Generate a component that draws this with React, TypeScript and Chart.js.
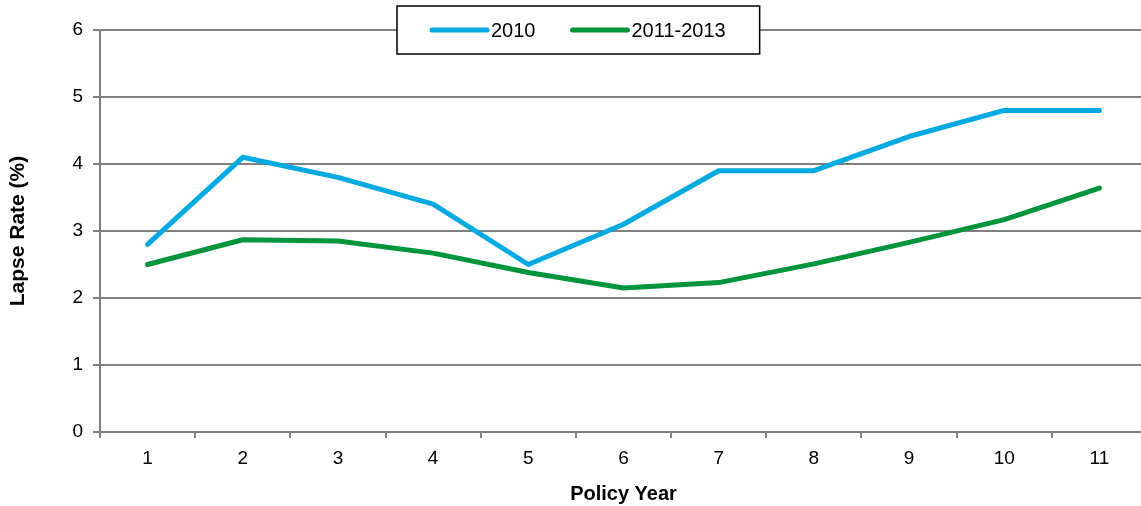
import React, { useEffect, useRef } from "react";
import { Chart, registerables } from "chart.js";

Chart.register(...registerables);

const categories = ["1", "2", "3", "4", "5", "6", "7", "8", "9", "10", "11"];
const series2010 = [2.8, 4.1, 3.8, 3.4, 2.5, 3.1, 3.9, 3.9, 4.41, 4.8, 4.8];
const series2011to2013 = [2.5, 2.87, 2.85, 2.67, 2.38, 2.15, 2.23, 2.51, 2.83, 3.17, 3.64];
const seriesLabels = ["2010", "2011-2013"];
const seriesColors = ["#00A9E0", "#00953A"];
const yMin = 0;
const yMax = 6;
const yStep = 1;

const FONT = "'Liberation Sans', Arial, sans-serif";

const legendPlugin = {
  id: "boxLegend",
  afterDraw(chart: any) {
    const ctx = chart.ctx;
    const datasets = chart.data.datasets;
    ctx.save();
    ctx.font = `20px ${FONT}`;
    const boxX = 397;
    const boxY = 6;
    const boxH = 48;
    const padL = 35;
    const lineLen = 55;
    const gap = 4;
    const itemGap = 37;
    const padR = 34;
    let w = padL;
    datasets.forEach((d: any, i: number) => {
      w += lineLen + gap + ctx.measureText(d.label).width;
      if (i < datasets.length - 1) w += itemGap;
    });
    w += padR;
    ctx.fillStyle = "#ffffff";
    ctx.fillRect(boxX, boxY, w, boxH);
    ctx.strokeStyle = "#000000";
    ctx.lineWidth = 1.5;
    ctx.strokeRect(boxX, boxY, w, boxH);
    const cy = boxY + boxH / 2;
    let x = boxX + padL;
    datasets.forEach((d: any) => {
      ctx.beginPath();
      ctx.strokeStyle = d.borderColor;
      ctx.lineWidth = 5;
      ctx.lineCap = "round";
      ctx.moveTo(x, cy);
      ctx.lineTo(x + lineLen, cy);
      ctx.stroke();
      x += lineLen + gap;
      ctx.fillStyle = "#000000";
      ctx.textBaseline = "middle";
      ctx.textAlign = "left";
      ctx.fillText(d.label, x, cy + 1);
      x += ctx.measureText(d.label).width + itemGap;
    });
    ctx.restore();
  },
};

export default function App() {
  const canvasRef = useRef<HTMLCanvasElement | null>(null);

  useEffect(() => {
    if (!canvasRef.current) return;
    const chart = new Chart(canvasRef.current, {
      type: "line",
      data: {
        labels: categories,
        datasets: [
          {
            label: seriesLabels[0],
            data: series2010,
            borderColor: seriesColors[0],
            backgroundColor: seriesColors[0],
            borderWidth: 5,
            pointRadius: 0,
            tension: 0,
            borderCapStyle: "round",
            borderJoinStyle: "round",
          },
          {
            label: seriesLabels[1],
            data: series2011to2013,
            borderColor: seriesColors[1],
            backgroundColor: seriesColors[1],
            borderWidth: 5,
            pointRadius: 0,
            tension: 0,
            borderCapStyle: "round",
            borderJoinStyle: "round",
          },
        ],
      },
      options: {
        responsive: false,
        animation: false,
        devicePixelRatio: 1,
        layout: { padding: { top: 30, left: 0, right: 0, bottom: 0 } },
        plugins: {
          legend: { display: false },
          tooltip: { enabled: false },
        },
        scales: {
          x: {
            type: "category",
            offset: true,
            grid: {
              offset: true,
              drawOnChartArea: false,
              drawTicks: true,
              tickLength: 6,
              color: "#808080",
              lineWidth: 2,
            },
            border: { color: "#808080", width: 2 },
            ticks: {
              color: "#000000",
              font: { family: FONT, size: 19 },
              padding: 9,
              maxRotation: 0,
            },
            title: {
              display: true,
              text: "Policy Year",
              color: "#000000",
              font: { family: FONT, size: 20, weight: "bold" },
              padding: { top: 0, bottom: 0 },
            },
            afterFit: (s: any) => {
              s.height = 74;
            },
          },
          y: {
            min: yMin,
            max: yMax,
            grid: {
              color: "#808080",
              lineWidth: 2,
              tickLength: 7,
            },
            border: { color: "#808080", width: 2 },
            ticks: {
              stepSize: yStep,
              color: "#000000",
              font: { family: FONT, size: 19 },
              padding: 10,
            },
            title: {
              display: true,
              text: "Lapse Rate (%)",
              color: "#000000",
              font: { family: FONT, size: 21, weight: "bold" },
              padding: { top: 6, bottom: 0 },
            },
            afterFit: (s: any) => {
              s.width = 100;
            },
          },
        },
      },
      plugins: [legendPlugin],
    });
    return () => chart.destroy();
  }, []);

  return (
    <div
      style={{
        position: "fixed",
        left: 0,
        top: 0,
        width: 1141,
        height: 506,
        overflow: "hidden",
        background: "#ffffff",
      }}
    >
      <canvas ref={canvasRef} width={1147} height={506} style={{ display: "block" }} />
    </div>
  );
}
